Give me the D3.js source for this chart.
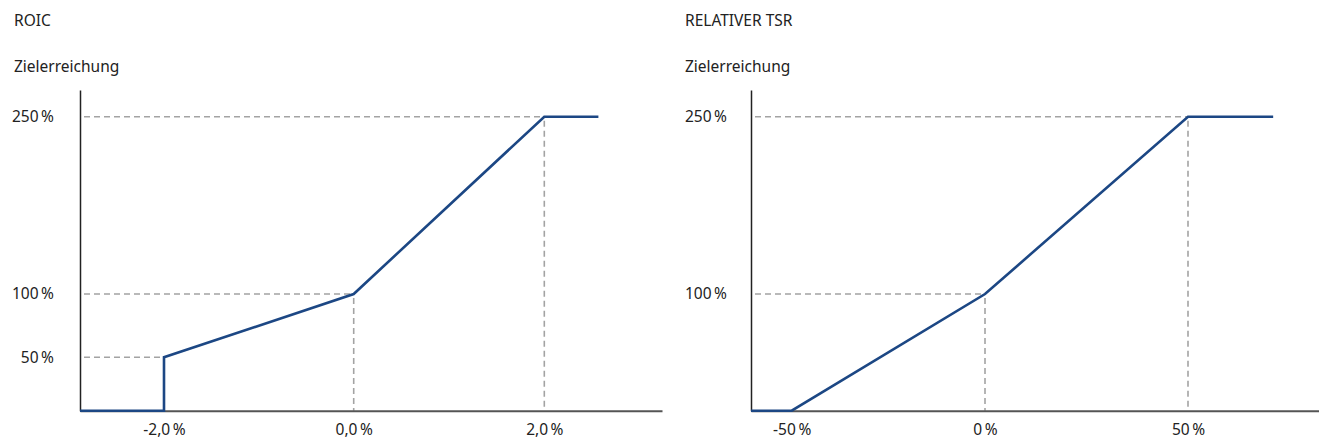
<!DOCTYPE html>
<html>
<head>
<meta charset="utf-8">
<script src="https://cdn.jsdelivr.net/npm/d3@7"></script>
<style>
  body { margin: 0; background: #fff; }
  text { font-family: "Noto Sans", sans-serif; font-size: 15.5px; fill: #222; }
</style>
</head>
<body>
<div id="chart"></div>
<script>
// ROIC
var roicX = [-2.88, -2, -2, 0, 2, 2.57];
var roicY = [0, 0, 50, 100, 250, 250];
var roicTicksX = [-2, 0, 2];
var roicTickLabelsX = ["-2,0\u202F%", "0,0\u202F%", "2,0\u202F%"];
var roicTicksY = [50, 100, 250];
var roicGuides = [[-2, 50], [0, 100], [2, 250]];

// relativer TSR
var tsrX = [-60.5, -50, 0, 50, 71];
var tsrY = [0, 0, 100, 250, 250];
var tsrTicksX = [-50, 0, 50];
var tsrTickLabelsX = ["-50\u202F%", "0\u202F%", "50\u202F%"];
var tsrTicksY = [100, 250];
var tsrGuides = [[0, 100], [50, 250]];

var width = 1319, height = 440;
var blue = "#1c4784";
var fontSize = "15.5px";

var svg = d3.select("#chart").append("svg")
    .attr("width", width)
    .attr("height", height);

function drawPanel(opt) {
    var g = svg.append("g");

    g.append("text").attr("x", opt.left - 66).attr("y", 26).text(opt.title);
    g.append("text").attr("x", opt.left - 66).attr("y", 72).text("Zielerreichung");

    var x = opt.x, y = opt.y;

    // gestrichelte Hilfslinien
    opt.guides.forEach(function(d) {
        g.append("line")
            .attr("x1", x.range()[0] + 4).attr("x2", x(d[0]))
            .attr("y1", y(d[1])).attr("y2", y(d[1]))
            .attr("stroke", "#a3a3a3").attr("stroke-width", 1.6)
            .attr("stroke-dasharray", "6,4");
        if (d[1] > opt.noVertical) {
            g.append("line")
                .attr("x1", x(d[0])).attr("x2", x(d[0]))
                .attr("y1", y(d[1]) + 4).attr("y2", y(0))
                .attr("stroke", "#a3a3a3").attr("stroke-width", 1.6)
                .attr("stroke-dasharray", "6,4");
        }
    });

    var xAxis = d3.axisBottom(x)
        .tickValues(opt.ticksX)
        .tickSize(0)
        .tickPadding(13)
        .tickFormat(function(d, i) { return opt.labelsX[i]; });

    var yAxis = d3.axisLeft(y)
        .tickValues(opt.ticksY)
        .tickSize(0)
        .tickPadding(opt.yPad)
        .tickFormat(function(d) { return d + "\u202F%"; });

    var gx = g.append("g")
        .attr("transform", "translate(0," + y(0) + ")")
        .call(xAxis);
    gx.select(".domain").attr("stroke", "#555").attr("stroke-width", 2);
    gx.selectAll("text").style("font-family", "Noto Sans").style("font-size", fontSize).attr("fill", "#222");

    var gy = g.append("g")
        .attr("transform", "translate(" + x.range()[0] + ",0)")
        .call(yAxis);
    gy.select(".domain").attr("stroke", "#222").attr("stroke-width", 1.5);
    gy.selectAll("text").style("font-family", "Noto Sans").style("font-size", fontSize).attr("fill", "#222");

    var line = d3.line()
        .x(function(d) { return x(d[0]); })
        .y(function(d) { return y(d[1]); });

    g.append("path")
        .datum(d3.zip(opt.dataX, opt.dataY))
        .attr("d", line)
        .attr("fill", "none")
        .attr("stroke", blue)
        .attr("stroke-width", 2.6)
        .attr("stroke-linejoin", "miter");
}

drawPanel({
    title: "ROIC",
    left: 80,
    x: d3.scaleLinear().domain([-2.88, -2, 0, 2, 3.24]).range([80, 164, 353.7, 544.3, 662]),
    y: d3.scaleLinear().domain([0, 50, 100, 250, 272.6]).range([410.7, 357.3, 294, 116.7, 90]),
    ticksX: roicTicksX,
    labelsX: roicTickLabelsX,
    ticksY: roicTicksY,
    yPad: 26,
    guides: roicGuides,
    noVertical: 50,
    dataX: roicX,
    dataY: roicY
});

drawPanel({
    title: "RELATIVER TSR",
    left: 751,
    x: d3.scaleLinear().domain([-60.5, -50, 0, 50, 82.3]).range([751, 791.7, 985, 1188, 1319]),
    y: d3.scaleLinear().domain([0, 100, 250, 272.6]).range([410.7, 294, 116.7, 90]),
    ticksX: tsrTicksX,
    labelsX: tsrTickLabelsX,
    ticksY: tsrTicksY,
    yPad: 24,
    guides: tsrGuides,
    noVertical: 0,
    dataX: tsrX,
    dataY: tsrY
});
</script>
</body>
</html>
